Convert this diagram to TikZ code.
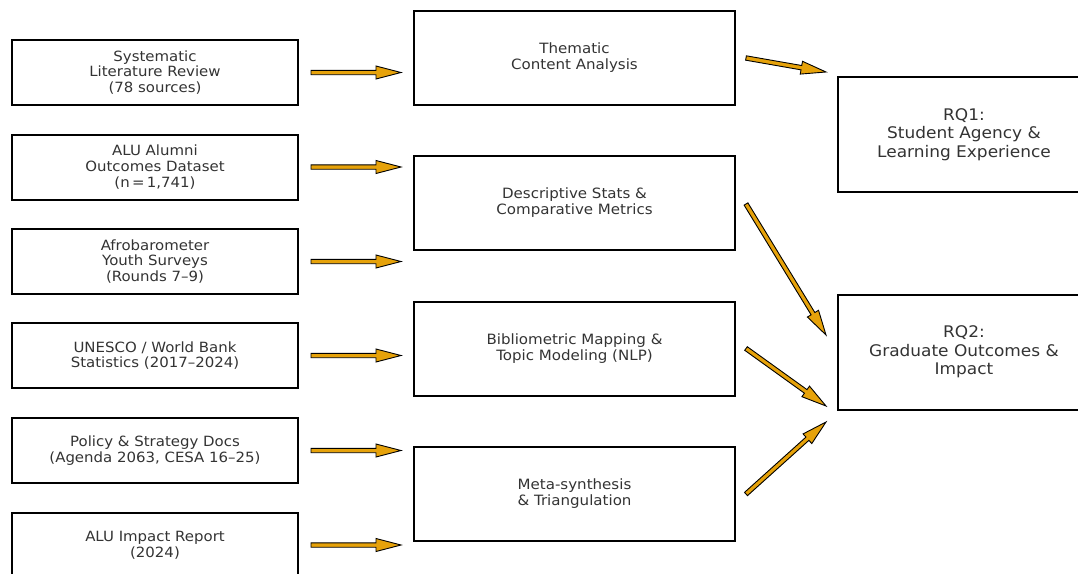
\documentclass[tikz,border=0pt]{standalone}
\usepackage{fontspec}
\setmainfont[FakeStretch=1.06]{DejaVu Sans}
\usetikzlibrary{calc}
\definecolor{txt}{HTML}{333333}
\definecolor{arrfill}{RGB}{230,162,10}
\newcommand\fatarrow[2]{%
  \path ($(#2)!25pt!(#1)$) coordinate (fap);
  \draw[fatarr] ($(#1)!2.2pt!90:(#2)$) -- ($(fap)!2.2pt!-90:(#1)$) -- ($(fap)!6.5pt!-90:(#1)$) -- (#2) -- ($(fap)!6.5pt!90:(#1)$) -- ($(fap)!2.2pt!90:(#1)$) -- ($(#1)!2.2pt!-90:(#2)$) -- cycle;}
\tikzset{
  box/.style={draw=black, line width=2pt, rectangle, align=center, text=txt, inner sep=0pt},
  srcbox/.style={box, minimum width=286pt, minimum height=65pt, font=\fontsize{14.1}{15.8}\selectfont},
  midbox/.style={box, minimum width=321pt, minimum height=94pt, font=\fontsize{14.2}{16}\selectfont},
  rqbox/.style={box, minimum width=252pt, minimum height=115pt, font=\fontsize{16}{18.5}\selectfont},
  fatarr/.style={draw=black, line width=0.9pt, fill=arrfill, line join=miter},
}
\begin{document}
\begin{tikzpicture}[x=1pt,y=-1pt]
\useasboundingbox (0,0) rectangle (1078,573);
\clip (0,0) rectangle (1078,573);
% left column
\node[srcbox] (l1) at (155,72.5) {Systematic\\Literature Review\\(78 sources)};
\node[srcbox] (l2) at (155,167) {ALU Alumni\\Outcomes Dataset\\(n\,=\,1,741)};
\node[srcbox] (l3) at (155,261.5) {Afrobarometer\\Youth Surveys\\(Rounds 7–9)};
\node[srcbox] (l4) at (155,355.5) {UNESCO / World Bank\\Statistics (2017–2024)};
\node[srcbox] (l5) at (155,450.5) {Policy \& Strategy Docs\\(Agenda 2063, CESA 16–25)};
\node[srcbox] (l6) at (155,545) {ALU Impact Report\\(2024)};
% middle column
\node[midbox] (m1) at (574.5,58) {Thematic\\Content Analysis};
\node[midbox] (m2) at (574.5,203) {Descriptive Stats \&\\Comparative Metrics};
\node[midbox] (m3) at (574.5,348.5) {Bibliometric Mapping \&\\Topic Modeling (NLP)};
\node[midbox] (m4) at (574.5,494) {Meta-synthesis\\\& Triangulation};
% right column
\node[rqbox] (rq1) at (964,134.5) {RQ1:\\Student Agency \&\\Learning Experience};
\node[rqbox] (rq2) at (964,352) {RQ2:\\Graduate Outcomes \&\\Impact};
% arrow end points
\coordinate (a1s) at ($(l1.east)+(12,0)$); \coordinate (a1e) at ($(l1.east -| m1.west)+(-12,0)$);
\coordinate (a2s) at ($(l2.east)+(12,0)$); \coordinate (a2e) at ($(l2.east -| m2.west)+(-12,0)$);
\coordinate (a3s) at ($(l3.east)+(12,0)$); \coordinate (a3e) at ($(l3.east -| m2.west)+(-12,0)$);
\coordinate (a4s) at ($(l4.east)+(12,0)$); \coordinate (a4e) at ($(l4.east -| m3.west)+(-12,0)$);
\coordinate (a5s) at ($(l5.east)+(12,0)$); \coordinate (a5e) at ($(l5.east -| m4.west)+(-12,0)$);
\coordinate (a6s) at ($(l6.east)+(12,0)$); \coordinate (a6e) at ($(l6.east -| m4.west)+(-12,0)$);
\coordinate (b1s) at ($(m1.east)+(10,0)$); \coordinate (b1e) at ($(rq1.west)+(-11,-62.5)$);
\coordinate (b2s) at ($(m2.east)+(10,1)$); \coordinate (b2e) at ($(rq2.west)+(-11,-17)$);
\coordinate (b3s) at ($(m3.east)+(10,0)$); \coordinate (b3e) at ($(rq2.west)+(-11,54)$);
\coordinate (b4s) at ($(m4.east)+(10,0)$); \coordinate (b4e) at ($(rq2.west)+(-11,70)$);
\fatarrow{a1s}{a1e}
\fatarrow{a2s}{a2e}
\fatarrow{a3s}{a3e}
\fatarrow{a4s}{a4e}
\fatarrow{a5s}{a5e}
\fatarrow{a6s}{a6e}
\fatarrow{b1s}{b1e}
\fatarrow{b2s}{b2e}
\fatarrow{b3s}{b3e}
\fatarrow{b4s}{b4e}
\end{tikzpicture}
\end{document}
